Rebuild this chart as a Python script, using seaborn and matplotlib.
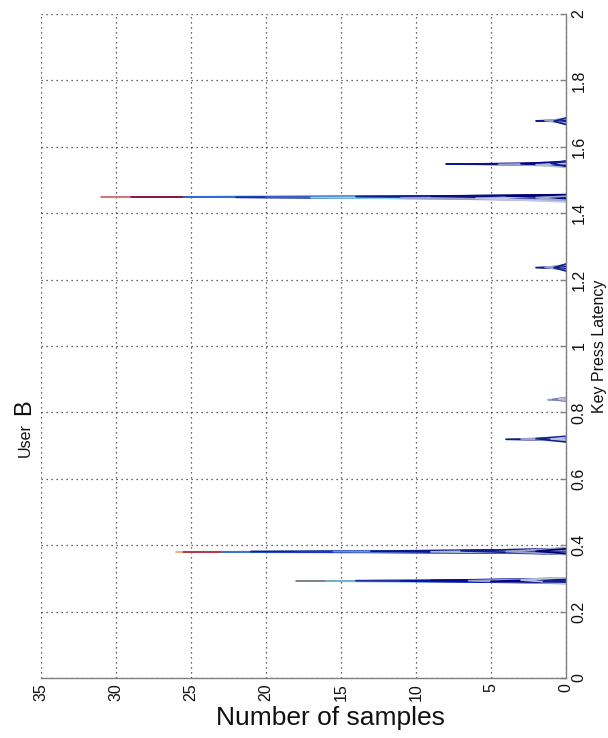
import numpy as np
import pandas as pd
import matplotlib
matplotlib.use("Agg")
import matplotlib.pyplot as plt
import seaborn as sns

# ---------------- data ----------------
x_ticks = [0, 5, 10, 15, 20, 25, 30, 35]
y_ticks = [0, 0.2, 0.4, 0.6, 0.8, 1.0, 1.2, 1.4, 1.6, 1.8, 2.0]
y_tick_labels = ["0", "0.2", "0.4", "0.6", "0.8", "1", "1.2", "1.4", "1.6", "1.8", "2"]

# each spike series: peak latency, peak count, latency where it leaves / returns to 0
# cluster near 0.29
c029_peak = [0.292, 0.292, 0.293, 0.292, 0.294, 0.293, 0.291, 0.295, 0.290]
c029_count = [18, 16, 14, 11, 9, 6.5, 5, 3, 1.5]
c029_lo = [0.290, 0.288, 0.289, 0.286, 0.287, 0.284, 0.288, 0.285, 0.289]
c029_hi = [0.295, 0.297, 0.296, 0.299, 0.300, 0.301, 0.298, 0.302, 0.296]

# cluster near 0.38
c038_peak = [0.3795, 0.3795, 0.380, 0.381, 0.380, 0.381, 0.382, 0.380, 0.383, 0.381, 0.382]
c038_count = [26, 25.5, 23, 21, 18, 15.5, 13, 9, 7, 4, 2]
c038_lo = [0.378, 0.377, 0.378, 0.376, 0.377, 0.375, 0.374, 0.376, 0.373, 0.372, 0.375]
c038_hi = [0.381, 0.382, 0.383, 0.384, 0.385, 0.386, 0.388, 0.387, 0.390, 0.392, 0.389]

# cluster near 0.72
c072_peak = [0.719, 0.720, 0.721, 0.720]
c072_count = [4, 3, 2, 1]
c072_lo = [0.716, 0.713, 0.711, 0.717]
c072_hi = [0.722, 0.725, 0.728, 0.724]

# cluster near 0.84
c084_peak = [0.838, 0.839, 0.840]
c084_count = [1.2, 0.9, 0.5]
c084_lo = [0.836, 0.834, 0.837]
c084_hi = [0.841, 0.845, 0.843]

# cluster near 1.23
c123_peak = [1.236, 1.237, 1.236]
c123_count = [2, 1.4, 0.8]
c123_lo = [1.233, 1.229, 1.226]
c123_hi = [1.240, 1.244, 1.247]

# cluster near 1.44
c144_peak = [1.449, 1.449, 1.449, 1.448, 1.449, 1.447, 1.450, 1.446, 1.451, 1.445, 1.452, 1.447]
c144_count = [31, 29, 25.5, 22, 20, 17, 14, 11, 9, 6, 4, 2]
c144_lo = [1.447, 1.446, 1.444, 1.442, 1.443, 1.441, 1.445, 1.437, 1.444, 1.434, 1.446, 1.438]
c144_hi = [1.450, 1.451, 1.452, 1.451, 1.453, 1.452, 1.455, 1.450, 1.456, 1.449, 1.455, 1.451]

# cluster near 1.55
c155_peak = [1.548, 1.548, 1.547, 1.549, 1.546, 1.550]
c155_count = [8, 6.5, 4.5, 3, 2, 1]
c155_lo = [1.546, 1.545, 1.542, 1.544, 1.538, 1.541]
c155_hi = [1.550, 1.552, 1.551, 1.556, 1.549, 1.557]

# cluster near 1.68
c168_peak = [1.678, 1.679, 1.677]
c168_count = [2, 1.4, 0.8]
c168_lo = [1.676, 1.672, 1.667]
c168_hi = [1.681, 1.684, 1.687]

clusters = [
    (c029_peak, c029_count, c029_lo, c029_hi),
    (c038_peak, c038_count, c038_lo, c038_hi),
    (c072_peak, c072_count, c072_lo, c072_hi),
    (c084_peak, c084_count, c084_lo, c084_hi),
    (c123_peak, c123_count, c123_lo, c123_hi),
    (c144_peak, c144_count, c144_lo, c144_hi),
    (c155_peak, c155_count, c155_lo, c155_hi),
    (c168_peak, c168_count, c168_lo, c168_hi),
]

# colours per cluster, tallest first
cluster_colors = [
    ["#7f868e", "#6fb2d6", "#1a2aa8", "#0018b8", "#0a0a90", "#9aa2cc", "#000080", "#b8c0dc", "#10208c"],
    ["#e8b488", "#b83a4a", "#3f70d2", "#0a20a0", "#1838c0", "#6a90d8", "#0a1890", "#a8b8d8", "#10208c", "#9aa2cc", "#000070"],
    ["#0c1a88", "#9aa2cc", "#10208c", "#b8c0dc"],
    ["#9aa2cc", "#7880b8", "#b8c0dc"],
    ["#0c1a88", "#9aa2cc", "#10208c"],
    ["#d07878", "#8c1a40", "#2f6fd8", "#1030a8", "#3a60c8", "#88d8ea", "#0a1c90", "#9aa2cc", "#0c0c80", "#c0c8e0", "#000070", "#a0a8d0"],
    ["#0a1890", "#10108a", "#9aa2cc", "#000080", "#b0b8d8", "#10208c"],
    ["#0c1a88", "#9aa2cc", "#10208c"],
]

# ---------------- build long table ----------------
rows = []
palette = {}
sid = 0
for (peaks, counts, los, his), cols in zip(clusters, cluster_colors):
    for p, c, lo, hi, col in zip(peaks, counts, los, his, cols):
        name = f"s{sid:03d}"
        palette[name] = col
        for order, (xx, yy) in enumerate([(0, lo), (c, p), (0, hi)]):
            rows.append({"series": name, "order": order, "count": xx, "latency": yy})
        sid += 1
df = pd.DataFrame(rows)
hue_order = list(palette.keys())

# ---------------- figure ----------------
sns.set_theme(style="white")
plt.rcParams["font.family"] = ["Liberation Sans", "DejaVu Sans"]

W, H = 608, 738
fig = plt.figure(figsize=(W / 100, H / 100), dpi=100)
ax = fig.add_axes([41 / W, 1 - 678 / H, (566 - 41) / W, (678 - 14) / H])

sns.lineplot(data=df, x="count", y="latency", hue="series", hue_order=hue_order,
             palette=palette, units="series", estimator=None, sort=False,
             legend=False, linewidth=1.25, ax=ax)

ax.set_xlim(35, 0)
ax.set_ylim(0, 2)
ax.set_xticks(x_ticks)
ax.set_xticklabels([str(v) for v in x_ticks], rotation=90, fontsize=11.5)
ax.set_yticks(y_ticks)
ax.set_yticklabels(y_tick_labels, rotation=90, fontsize=11.5, va="center")
ax.yaxis.tick_right()
ax.yaxis.set_label_position("right")

ax.grid(True, linestyle=(0, (1, 3)), color="#333333", linewidth=0.9)
for s in ["top", "left"]:
    ax.spines[s].set_visible(False)
for s in ["right", "bottom"]:
    ax.spines[s].set_color("#808080")
    ax.spines[s].set_linewidth(1.0)
ax.tick_params(axis="both", direction="in", length=4, color="#808080", width=1.0,
               labelcolor="#111111")
ax.tick_params(axis="y", pad=4)
ax.tick_params(axis="x", pad=4)

ax.set_xlabel("Number of samples", fontsize=19, color="#111111")
ax.xaxis.set_label_coords((330 - 41) / (566 - 41), -(718 - 678) / (678 - 14))
ax.xaxis.label.set_va("center")
ax.set_ylabel("Key Press Latency", fontsize=11.5, rotation=90, labelpad=4, color="#111111")

fig.text(25 / W, 1 - 440 / H, "User", rotation=90, fontsize=11.5, ha="center", va="center",
         color="#111111")
fig.text(24 / W, 1 - 407 / H, "B", rotation=90, fontsize=17, ha="center", va="center",
         color="#111111")

fig.savefig("out.png", dpi=100)
